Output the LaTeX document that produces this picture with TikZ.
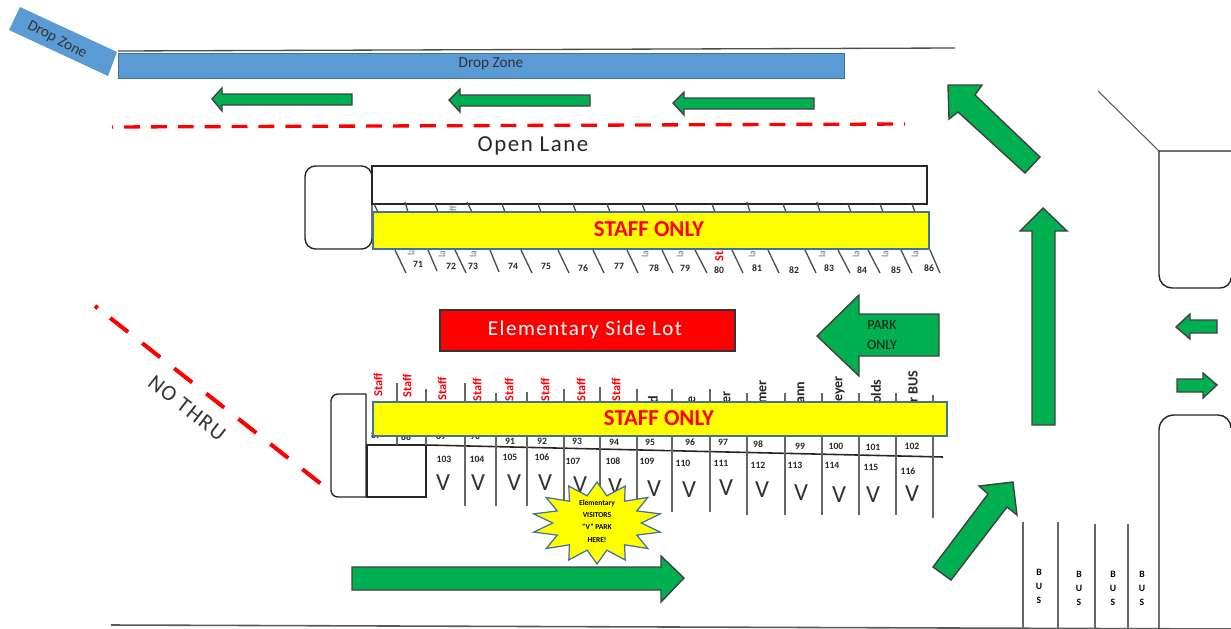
\documentclass[tikz,border=0pt]{standalone}
\usepackage{fontspec}
\setmainfont{Carlito}
\newfontfamily\spacedfont[LetterSpace=7]{Carlito}
\usepackage{tikz}

\definecolor{zoneblue}{HTML}{5B9BD5}
\definecolor{edgeblue}{HTML}{41719C}
\definecolor{lanegreen}{HTML}{00B050}
\definecolor{staffyellow}{RGB}{255,255,0}
\definecolor{signred}{RGB}{255,0,0}

\tikzset{
  greenarrow/.style={fill=lanegreen, draw=black!75, line width=0.8pt, line join=miter},
  roadline/.style={draw=black!85, line width=0.8pt},
  thinline/.style={draw=black!70, line width=0.75pt},
  slotline/.style={draw=black!60, line width=1.3pt},
  reddash/.style={draw=signred, line width=1.9pt},
  staffbar/.style={fill=staffyellow, draw=edgeblue, line width=0.7pt},
  stafftext/.style={font=\fontsize{13}{13}\selectfont\bfseries, text=signred},
  numlabel/.style={font=\fontsize{5.5}{5.5}\selectfont\bfseries, text=black!85, inner sep=0pt},
  vlabel/.style={font=\fontsize{14}{14}\selectfont, text=black!80, inner sep=0pt},
  buslabel/.style={font=\fontsize{5.5}{8}\selectfont\bfseries, align=center, inner sep=0pt},
  redtag/.style={font=\fontsize{7}{7}\selectfont\bfseries, text=signred, rotate=90, anchor=west, inner sep=0pt},
  blacktag/.style={font=\fontsize{8}{8}\selectfont\bfseries, text=black!85, rotate=90, anchor=west, inner sep=0pt},
  graytag/.style={font=\fontsize{5.5}{5.5}\selectfont, text=black!55, rotate=90, anchor=west, inner sep=0pt},
}

\begin{document}
\begin{tikzpicture}[x=0.02cm, y=-0.02cm]
  \useasboundingbox (0,0) rectangle (1231,629);
  % top of the lot
  \draw[thinline] (118,51) -- (955,48);
  \fill[zoneblue] (118,53) rectangle (844,78);
  \draw[edgeblue, line width=0.4pt] (118,53) rectangle (844,78);
  \node[font=\fontsize{8.7}{8.7}\selectfont, text=black!80, inner sep=0pt] (dropmain) at (491,64) {Drop Zone};
  \fill[zoneblue] (20,7) -- (117,52) -- (108,76) -- (9,30) -- cycle;
  \node[font=\fontsize{8.7}{8.7}\selectfont, text=black!80, rotate=-28, inner sep=0pt] (dropside) at (57,40) {Drop Zone};
  \draw[greenarrow] (212,99) -- (222,88) -- (222,94) -- (352,94) -- (352,105) -- (222,105) -- (222,111) -- cycle;
  \draw[greenarrow] (449,100) -- (460,89) -- (460,95) -- (590,95) -- (590,106) -- (460,106) -- (460,112) -- cycle;
  \draw[greenarrow] (673,103) -- (684,92) -- (684,98) -- (814,98) -- (814,109) -- (684,109) -- (684,115) -- cycle;
  \draw[reddash, dash pattern=on 9.07pt off 6.24pt, dash phase=8.5pt] (112,127) -- (905,124);
  \node[font=\spacedfont\fontsize{13}{13}\selectfont, text=black!85, inner sep=0pt] (openlane) at (533,146) {Open Lane};
  % upper row
  \draw[roadline] (372,166) rectangle (927,204);
  \draw[roadline, rounded corners=6pt] (305,166) rectangle (372,249);
  \node[graytag] (fragtop) at (453,212) {ff};
  \draw[thinline] (374,204) -- (378,212);
  \draw[thinline] (405,202) -- (408,212);
  \draw[thinline] (435,204) -- (438,212);
  \draw[thinline] (467,202) -- (472,212);
  \draw[thinline] (502,204) -- (505,212);
  \draw[thinline] (538,204) -- (541,212);
  \draw[thinline] (573,204) -- (576,212);
  \draw[thinline] (607,204) -- (610,212);
  \draw[thinline] (642,204) -- (645,212);
  \draw[thinline] (675,204) -- (678,212);
  \draw[thinline] (712,204) -- (715,212);
  \draw[thinline] (747,202) -- (750,212);
  \draw[thinline] (783,204) -- (786,212);
  \draw[thinline] (817,202) -- (820,212);
  \draw[thinline] (848,204) -- (851,212);
  \draw[thinline] (880,204) -- (883,212);
  \draw[thinline] (912,204) -- (915,212);
  \draw[thinline] (395,250) -- (406,273);
  \draw[thinline] (428,250) -- (437,271);
  \draw[thinline] (455,250) -- (466,273);
  \draw[thinline] (490,250) -- (499,272);
  \draw[thinline] (521,250) -- (532,273);
  \draw[thinline] (558,250) -- (569,273);
  \draw[thinline] (593,250) -- (604,273);
  \draw[thinline] (627,250) -- (638,273);
  \draw[thinline] (662,250) -- (673,273);
  \draw[thinline] (695,250) -- (707,273);
  \draw[thinline] (732,250) -- (743,273);
  \draw[thinline] (768,250) -- (779,273);
  \draw[thinline] (805,250) -- (816,273);
  \draw[thinline] (838,250) -- (850,273);
  \draw[thinline] (868,250) -- (880,273);
  \draw[thinline] (901,250) -- (912,273);
  \draw[thinline] (930,250) -- (940,273);
  \node[redtag] (redbit) at (719,262) {Staff};
  \node[graytag] (frag71) at (411,256) {la};
  \node[graytag] (frag72) at (442,258) {la};
  \node[graytag] (frag73) at (473,258) {la};
  \node[graytag] (frag77) at (645,258) {la};
  \node[graytag] (frag78) at (680,258) {la};
  \node[graytag] (frag81) at (752,258) {la};
  \node[graytag] (frag83) at (822,258) {la};
  \node[graytag] (frag84) at (856,258) {la};
  \node[graytag] (frag85) at (885,258) {la};
  \node[graytag] (frag86) at (915,258) {la};
  \draw[staffbar] (373,212) rectangle (929,249);
  \node[stafftext] (staffupper) at (649,229) {STAFF ONLY};
  \node[numlabel] (n71) at (418,264) {71};
  \node[numlabel] (n72) at (451,266) {72};
  \node[numlabel] (n73) at (473,266) {73};
  \node[numlabel] (n74) at (513,266) {74};
  \node[numlabel] (n75) at (546,266) {75};
  \node[numlabel] (n76) at (583,268) {76};
  \node[numlabel] (n77) at (619,266) {77};
  \node[numlabel] (n78) at (654,268) {78};
  \node[numlabel] (n79) at (685,268) {79};
  \node[numlabel] (n80) at (719,270) {80};
  \node[numlabel] (n81) at (757,268) {81};
  \node[numlabel] (n82) at (794,270) {82};
  \node[numlabel] (n83) at (829,268) {83};
  \node[numlabel] (n84) at (862,270) {84};
  \node[numlabel] (n85) at (896,270) {85};
  \node[numlabel] (n86) at (929,268) {86};
  % centre of the lot
  \fill[signred] (440,310) rectangle (735,351);
  \draw[black!80, line width=0.6pt] (440,310) rectangle (735,351);
  \node[font=\spacedfont\fontsize{12}{12}\selectfont, text=white, inner sep=0pt] (sidelot) at (585,330) {Elementary Side Lot};
  \draw[greenarrow] (817,336) -- (859,295) -- (859,314) -- (939,314) -- (939,356) -- (859,356) -- (859,376) -- cycle;
  \node[font=\fontsize{8}{11.5}\selectfont, align=center, text=black!90, inner sep=0pt] (parkonly) at (882,335) {PARK\\ONLY};
  \draw[reddash, line width=2.3pt, dash pattern=on 2pt off 9pt on 13pt off 10.2pt on 13pt off 10.2pt on 13pt off 10.2pt on 13pt off 10.2pt on 13pt off 10.2pt on 13pt off 10.2pt on 13pt off 10.2pt] (95,306) -- (325,487);
  \node[font=\spacedfont\fontsize{12.5}{12.5}\selectfont, text=black!80, rotate=-38, inner sep=0pt] (nothru) at (187,408) {NO THRU};
  % lower row
  \draw[roadline] (366,394) -- (338,394) to[out=180, in=90] (331,401) -- (331,490) to[out=-90, in=180] (338,497) -- (366,497) -- cycle;
  \draw[roadline, line width=1.2pt] (367,445) rectangle (426,497);
  \draw[roadline, line width=0.9pt] (426,445) -- (943,457);
  \draw[slotline] (397,383) -- (397,445);
  \draw[slotline] (426,389) -- (426,445);
  \draw[slotline] (465,383) -- (465,506);
  \draw[slotline] (496,393) -- (496,506);
  \draw[slotline] (527,392) -- (527,506);
  \draw[slotline] (564,389) -- (564,505);
  \draw[slotline] (600,387) -- (600,505);
  \draw[slotline] (637,389) -- (637,512);
  \draw[slotline] (672,389) -- (672,512);
  \draw[slotline] (710,389) -- (710,512);
  \draw[slotline] (747,393) -- (747,515);
  \draw[slotline] (785,393) -- (785,515);
  \draw[slotline] (822,393) -- (822,515);
  \draw[slotline] (859,393) -- (859,515);
  \draw[slotline] (896,393) -- (896,515);
  \draw[slotline] (933,395) -- (933,518);
  \node[redtag] (tag87) at (378,397) {Staff};
  \node[redtag] (tag88) at (407,398) {Staff};
  \node[redtag] (tag89) at (442,401) {Staff};
  \node[redtag] (tag90) at (477,402) {Staff};
  \node[redtag] (tag91) at (509,402) {Staff};
  \node[redtag] (tag92) at (545,402) {Staff};
  \node[redtag] (tag93) at (581,402) {Staff};
  \node[redtag] (tag94) at (616,402) {Staff};
  \node[blacktag] (tag95) at (653,404) {d};
  \node[blacktag] (tag96) at (692,404) {e};
  \node[blacktag] (tag97) at (727,404) {er};
  \node[blacktag] (tag98) at (763,404) {mer};
  \node[blacktag] (tag99) at (801,404) {ann};
  \node[blacktag] (tag100) at (840,402) {eyer};
  \node[blacktag] (tag101) at (876,404) {olds};
  \node[blacktag] (tag102) at (913,403) {r BUS};
  \node[numlabel] (n87) at (376,435) {87};
  \node[numlabel] (n88) at (406,437) {88};
  \node[numlabel] (n89) at (441,436) {89};
  \node[numlabel] (n90) at (475,436) {90};
  \draw[staffbar] (373,402) rectangle (947,436);
  \node[stafftext] (stafflower) at (659,418) {STAFF ONLY};
  \node[numlabel] (n91) at (510,441) {91};
  \node[numlabel] (n92) at (542,441) {92};
  \node[numlabel] (n93) at (577,441) {93};
  \node[numlabel] (n94) at (614,442) {94};
  \node[numlabel] (n95) at (650,442) {95};
  \node[numlabel] (n96) at (690,442) {96};
  \node[numlabel] (n97) at (723,442) {97};
  \node[numlabel] (n98) at (758,444) {98};
  \node[numlabel] (n99) at (800,446) {99};
  \node[numlabel] (n100) at (836,446) {100};
  \node[numlabel] (n101) at (873,447) {101};
  \node[numlabel] (n102) at (912,446) {102};
  \node[numlabel] (n103) at (444,459) {103};
  \node[numlabel] (n104) at (477,459) {104};
  \node[numlabel] (n105) at (510,457) {105};
  \node[numlabel] (n106) at (542,457) {106};
  \node[numlabel] (n107) at (573,461) {107};
  \node[numlabel] (n108) at (613,461) {108};
  \node[numlabel] (n109) at (647,461) {109};
  \node[numlabel] (n110) at (683,463) {110};
  \node[numlabel] (n111) at (721,463) {111};
  \node[numlabel] (n112) at (758,465) {112};
  \node[numlabel] (n113) at (795,465) {113};
  \node[numlabel] (n114) at (832,465) {114};
  \node[numlabel] (n115) at (871,467) {115};
  \node[numlabel] (n116) at (908,471) {116};
  \node[vlabel] (v103) at (443,483) {V};
  \node[vlabel] (v104) at (478,483) {V};
  \node[vlabel] (v105) at (514,483) {V};
  \node[vlabel] (v106) at (545,483) {V};
  \node[vlabel] (v107) at (580,485) {V};
  \node[vlabel] (v108) at (615,487) {V};
  \node[vlabel] (v109) at (654,489) {V};
  \node[vlabel] (v110) at (689,490) {V};
  \node[vlabel] (v111) at (726,488) {V};
  \node[vlabel] (v112) at (762,490) {V};
  \node[vlabel] (v113) at (801,493) {V};
  \node[vlabel] (v114) at (839,495) {V};
  \node[vlabel] (v115) at (873,495) {V};
  \node[vlabel] (v116) at (912,494) {V};
  % visitor star
  \draw[fill=staffyellow, draw=edgeblue, line width=0.7pt] plot[samples=29, domain=0:28, variable=\k] ({597+(1-0.32*mod(\k,2))*65*sin(\k*360/28)}, {523-(1-0.32*mod(\k,2))*41*cos(\k*360/28)}) -- cycle;
  \node[font=\fontsize{4.3}{7}\selectfont\bfseries, align=center, text=black, inner sep=0pt] (visitors) at (597,521) {Elementary\\VISITORS\\``V'' PARK\\HERE!};
  % bottom
  \draw[greenarrow] (352,567) -- (661,567) -- (661,556) -- (684,578) -- (661,602) -- (661,590) -- (352,590) -- cycle;
  \draw[draw=black!65, line width=0.9pt] (111,625) -- (1231,629);
  \draw[slotline] (1023,522) -- (1023,629);
  \draw[slotline] (1058,522) -- (1058,629);
  \draw[slotline] (1095,524) -- (1095,629);
  \draw[slotline] (1128,524) -- (1128,629);
  \node[buslabel] (bus1) at (1039,586) {B\\U\\S};
  \node[buslabel] (bus2) at (1079,588) {B\\U\\S};
  \node[buslabel] (bus3) at (1113,588) {B\\U\\S};
  \node[buslabel] (bus4) at (1142,588) {B\\U\\S};
  % right side
  \draw[greenarrow] (948,85) -- (982,85) -- (975,95) -- (1040,157) -- (1025,173) -- (958,112) -- (949,119) -- cycle;
  \draw[greenarrow] (1043,208) -- (1067,231) -- (1055,231) -- (1055,425) -- (1032,425) -- (1032,231) -- (1020,231) -- cycle;
  \draw[greenarrow] (1013,482) -- (1017,515) -- (1007,507) -- (951,580) -- (933,567) -- (988,494) -- (979,486) -- cycle;
  \draw[greenarrow] (1176,327) -- (1190,314) -- (1190,320) -- (1217,320) -- (1217,333) -- (1190,333) -- (1190,339) -- cycle;
  \draw[greenarrow] (1217,385) -- (1203,373) -- (1203,379) -- (1177,379) -- (1177,392) -- (1203,392) -- (1203,398) -- cycle;
  \draw[draw=black!65, line width=0.6pt] (1098,91) -- (1159,151);
  \draw[roadline] (1231,151) -- (1159,151) -- (1159,275) to[out=-90, in=180] (1172,288) -- (1220,288) to[out=0, in=-90] (1231,278);
  \draw[roadline] (1159,629) -- (1159,430) to[out=90, in=180] (1174,415) -- (1218,415) to[out=0, in=90] (1231,428);
\end{tikzpicture}
\end{document}
